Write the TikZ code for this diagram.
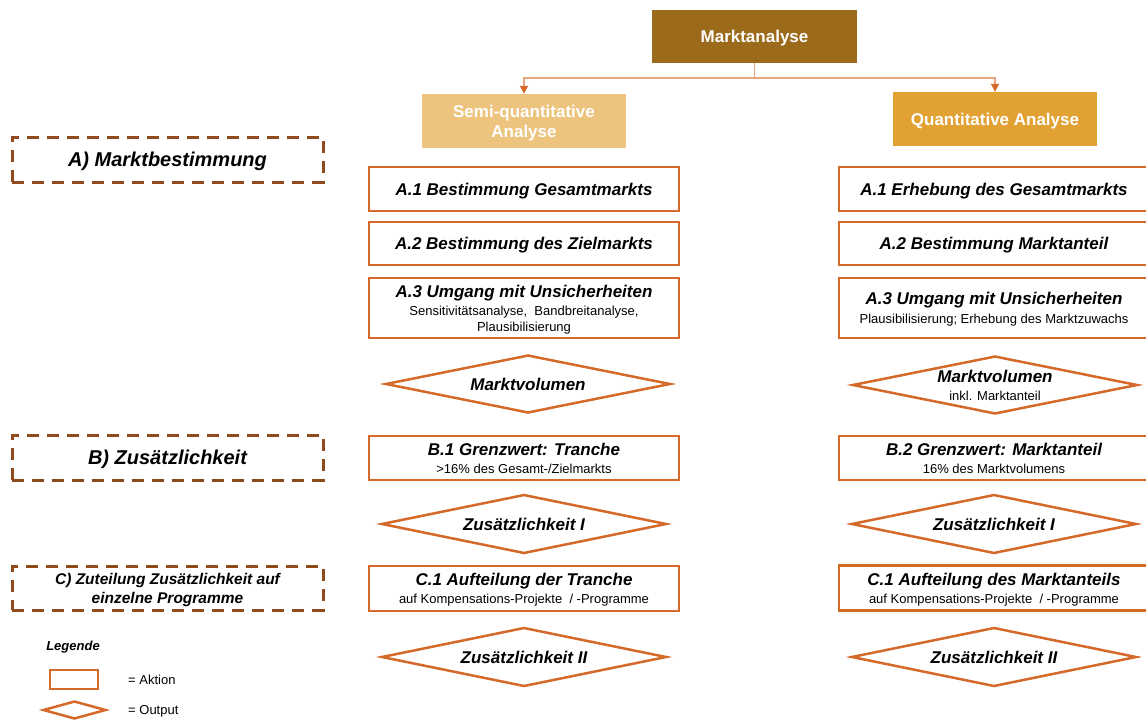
\documentclass[tikz,border=0pt]{standalone}
\usepackage{fontspec}
\setmainfont{Liberation Sans}
\usetikzlibrary{shapes.geometric,arrows.meta}
\definecolor{ora}{HTML}{D4692A}
\definecolor{brn}{HTML}{8F4A1E}
\definecolor{mafill}{HTML}{9B6A1A}
\definecolor{semifill}{HTML}{EDC47E}
\definecolor{quantfill}{HTML}{E1A133}
\definecolor{conncol}{HTML}{E9A57C}
\newcommand\ttl[1]{{\bfseries\itshape\fontsize{17}{16}\selectfont #1}}
\newcommand\sbt[1]{{\fontsize{13}{16}\selectfont #1}}
\begin{document}
\begin{tikzpicture}[x=1pt,y=-1pt,
  act/.style={draw=ora, line width=2.5pt, minimum width=310pt, minimum height=44pt, align=center, inner sep=2pt, fill=white, text depth=0pt, font=\fontsize{13}{16}\selectfont},
  outp/.style={diamond, draw=ora, line width=2.5pt, minimum width=285pt, minimum height=58pt, aspect=5, inner sep=0pt, align=center, fill=white, text depth=0pt, font=\fontsize{13}{16}\selectfont},
  sec/.style={draw=brn, line width=3pt, dash pattern=on 12pt off 8pt, minimum width=311pt, minimum height=45pt, align=center, text depth=0pt, font=\bfseries\itshape\fontsize{20}{22}\selectfont},
  head/.style={minimum width=205pt, minimum height=54pt, align=center, text=white, text depth=0pt, font=\bfseries\fontsize{17}{20}\selectfont, inner sep=0pt},
  conn/.style={draw=conncol, line width=1.2pt},
  tip/.style={-{Triangle[length=8pt,width=8pt,fill=ora,color=ora]}}
]
\useasboundingbox (0,0) rectangle (1146,720);
\clip (0,0) rectangle (1146,720);

% header
\node[head, fill=mafill, minimum height=53pt] (ma) at (754.5,36.5) {Marktanalyse};
\node[head, fill=semifill, minimum width=204pt] (semi) at (524,121) {Semi-quantitative\\Analyse};
\node[head, fill=quantfill, minimum width=204pt] (quant) at (995,119) {Quantitative Analyse};
\coordinate (split) at (754.5,78);
\draw[conn] (ma.south) -- (split);
\draw[conn,tip] (split) -| (semi.north);
\draw[conn,tip] (split) -| (quant.north);

% section labels
\node[sec] (secA) at (167.5,159.5) {A) Marktbestimmung};
\node[sec] (secB) at (167.5,457.5) {B) Zusätzlichkeit};
\node[sec, minimum height=44pt, font=\bfseries\itshape\fontsize{15.5}{19}\selectfont] (secC) at (167.5,588) {C) Zuteilung Zusätzlichkeit auf\\einzelne Programme};

% left column
\node[act] (a1l) at (524,189) {\ttl{A.1 Bestimmung Gesamtmarkts}};
\node[act, minimum height=43pt] (a2l) at (524,243.5) {\ttl{A.2 Bestimmung des Zielmarkts}};
\node[act, minimum height=60pt] (a3l) at (524,308) {\ttl{A.3 Umgang mit Unsicherheiten}\\[2pt]\sbt{Sensitivitätsanalyse,\ \ Bandbreitanalyse,}\\\sbt{Plausibilisierung}};
\node[outp] (mvl) at (528,384) {\ttl{Marktvolumen}};
\node[act] (b1l) at (524,458) {\ttl{B.1 Grenzwert: Tranche}\\[2pt]\sbt{>16\% des Gesamt-/Zielmarkts}};
\node[outp, minimum height=59pt] (z1l) at (524,524) {\ttl{Zusätzlichkeit I}};
\node[act, minimum height=45pt] (c1l) at (524,588.5) {\ttl{C.1 Aufteilung der Tranche}\\[2pt]\sbt{auf Kompensations-Projekte\ \ / -Programme}};
\node[outp, minimum height=59pt] (z2l) at (524,657) {\ttl{Zusätzlichkeit II}};

% right column
\node[act] (a1r) at (994,189) {\ttl{A.1 Erhebung des Gesamtmarkts}};
\node[act, minimum height=43pt] (a2r) at (994,243.5) {\ttl{A.2 Bestimmung Marktanteil}};
\node[act, minimum height=60pt] (a3r) at (994,308) {\ttl{A.3 Umgang mit Unsicherheiten}\\[3pt]\sbt{Plausibilisierung; Erhebung des Marktzuwachs}};
\node[outp] (mvr) at (995,385) {\ttl{Marktvolumen}\\[2pt]\sbt{inkl. Marktanteil}};
\node[act] (b2r) at (994,458) {\ttl{B.2 Grenzwert: Marktanteil}\\[2pt]\sbt{16\% des Marktvolumens}};
\node[outp, minimum height=59pt] (z1r) at (994,524) {\ttl{Zusätzlichkeit I}};
\node[act, minimum height=45pt] (c1r) at (994,588) {\ttl{C.1 Aufteilung des Marktanteils}\\[2pt]\sbt{auf Kompensations-Projekte\ \ / -Programme}};
\node[outp, minimum height=59pt] (z2r) at (994,657) {\ttl{Zusätzlichkeit II}};

% legend
\node[font=\bfseries\itshape\fontsize{13}{15}\selectfont] (leg) at (73,647) {Legende};
\node[draw=ora, line width=2.5pt, minimum width=48pt, minimum height=19pt, inner sep=0pt] (legact) at (74,679.5) {};
\node[anchor=west, font=\fontsize{13}{15}\selectfont, inner sep=0pt] (legacttxt) at (128,680) {= Aktion};
\node[diamond, draw=ora, line width=2.5pt, minimum width=63pt, minimum height=18pt, aspect=3.5, inner sep=0pt] (legout) at (74.5,710) {};
\node[anchor=west, font=\fontsize{13}{15}\selectfont, inner sep=0pt] (legouttxt) at (128,711) {= Output};
\end{tikzpicture}
\end{document}
